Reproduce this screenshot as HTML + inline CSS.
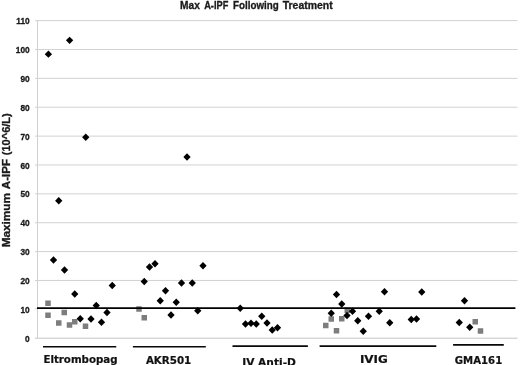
<!DOCTYPE html>
<html><head><meta charset="utf-8"><title>Max A-IPF Following Treatment</title>
<style>html,body{margin:0;padding:0;background:#fff;}svg{display:block;}.t{font-family:"Liberation Sans",sans-serif;font-weight:bold;fill:#1a1a1a;}.b{stroke:#1a1a1a;stroke-width:0.3px;}.g{stroke:#111;stroke-width:0.2px;font-family:"DejaVu Sans","Liberation Sans",sans-serif;font-weight:bold;fill:#111;}</style></head><body>
<svg width="520" height="365" viewBox="0 0 520 365">
<rect width="520" height="365" fill="#fff"/>
<line x1="35.0" y1="338.20" x2="517.5" y2="338.20" stroke="#c4c4c4" stroke-width="1"/>
<line x1="35.0" y1="308.73" x2="37.5" y2="308.73" stroke="#d2d2d2" stroke-width="1"/>
<line x1="35.0" y1="280.46" x2="517.5" y2="280.46" stroke="#d2d2d2" stroke-width="1"/>
<line x1="35.0" y1="251.59" x2="517.5" y2="251.59" stroke="#d2d2d2" stroke-width="1"/>
<line x1="35.0" y1="222.72" x2="517.5" y2="222.72" stroke="#d2d2d2" stroke-width="1"/>
<line x1="35.0" y1="193.85" x2="517.5" y2="193.85" stroke="#d2d2d2" stroke-width="1"/>
<line x1="35.0" y1="164.98" x2="517.5" y2="164.98" stroke="#d2d2d2" stroke-width="1"/>
<line x1="35.0" y1="136.11" x2="517.5" y2="136.11" stroke="#d2d2d2" stroke-width="1"/>
<line x1="35.0" y1="107.24" x2="517.5" y2="107.24" stroke="#d2d2d2" stroke-width="1"/>
<line x1="35.0" y1="78.37" x2="517.5" y2="78.37" stroke="#d2d2d2" stroke-width="1"/>
<line x1="35.0" y1="49.50" x2="517.5" y2="49.50" stroke="#d2d2d2" stroke-width="1"/>
<line x1="35.0" y1="20.63" x2="517.5" y2="20.63" stroke="#d2d2d2" stroke-width="1"/>
<line x1="37.5" y1="20.63" x2="37.5" y2="338.20" stroke="#d0d0d0" stroke-width="1"/>
<text class="t b" x="29.7" y="341.80" font-size="8.3" text-anchor="end">0</text>
<text class="t b" x="29.7" y="312.93" font-size="8.3" text-anchor="end">10</text>
<text class="t b" x="29.7" y="284.06" font-size="8.3" text-anchor="end">20</text>
<text class="t b" x="29.7" y="255.19" font-size="8.3" text-anchor="end">30</text>
<text class="t b" x="29.7" y="226.32" font-size="8.3" text-anchor="end">40</text>
<text class="t b" x="29.7" y="197.45" font-size="8.3" text-anchor="end">50</text>
<text class="t b" x="29.7" y="168.58" font-size="8.3" text-anchor="end">60</text>
<text class="t b" x="29.7" y="139.71" font-size="8.3" text-anchor="end">70</text>
<text class="t b" x="29.7" y="110.84" font-size="8.3" text-anchor="end">80</text>
<text class="t b" x="29.7" y="81.97" font-size="8.3" text-anchor="end">90</text>
<text class="t b" x="29.7" y="53.10" font-size="8.3" text-anchor="end">100</text>
<text class="t b" x="29.7" y="24.23" font-size="8.3" text-anchor="end">110</text>
<rect x="45.25" y="300.50" width="5.5" height="5.5" fill="#7d7d7d"/>
<rect x="45.25" y="312.50" width="5.5" height="5.5" fill="#7d7d7d"/>
<rect x="56.00" y="320.25" width="5.5" height="5.5" fill="#7d7d7d"/>
<rect x="61.50" y="309.75" width="5.5" height="5.5" fill="#7d7d7d"/>
<rect x="66.75" y="322.25" width="5.5" height="5.5" fill="#7d7d7d"/>
<rect x="72.00" y="319.00" width="5.5" height="5.5" fill="#7d7d7d"/>
<rect x="82.75" y="323.50" width="5.5" height="5.5" fill="#7d7d7d"/>
<rect x="136.25" y="306.25" width="5.5" height="5.5" fill="#7d7d7d"/>
<rect x="141.50" y="315.00" width="5.5" height="5.5" fill="#7d7d7d"/>
<rect x="323.00" y="322.75" width="5.5" height="5.5" fill="#7d7d7d"/>
<rect x="328.50" y="316.25" width="5.5" height="5.5" fill="#7d7d7d"/>
<rect x="333.75" y="328.00" width="5.5" height="5.5" fill="#7d7d7d"/>
<rect x="339.00" y="316.00" width="5.5" height="5.5" fill="#7d7d7d"/>
<rect x="344.50" y="307.50" width="5.5" height="5.5" fill="#7d7d7d"/>
<rect x="472.50" y="319.00" width="5.5" height="5.5" fill="#7d7d7d"/>
<rect x="477.75" y="328.25" width="5.5" height="5.5" fill="#7d7d7d"/>
<line x1="37.0" y1="308.15" x2="515.4" y2="308.15" stroke="#000" stroke-width="1.75"/>
<polygon points="44.75,54.20 48.40,50.55 52.05,54.20 48.40,57.85" fill="#000"/>
<polygon points="65.95,40.35 69.60,36.70 73.25,40.35 69.60,44.00" fill="#000"/>
<polygon points="82.10,137.25 85.75,133.60 89.40,137.25 85.75,140.90" fill="#000"/>
<polygon points="55.10,200.75 58.75,197.10 62.40,200.75 58.75,204.40" fill="#000"/>
<polygon points="49.85,260.00 53.50,256.35 57.15,260.00 53.50,263.65" fill="#000"/>
<polygon points="60.85,270.00 64.50,266.35 68.15,270.00 64.50,273.65" fill="#000"/>
<polygon points="71.10,294.00 74.75,290.35 78.40,294.00 74.75,297.65" fill="#000"/>
<polygon points="76.60,318.75 80.25,315.10 83.90,318.75 80.25,322.40" fill="#000"/>
<polygon points="87.35,319.00 91.00,315.35 94.65,319.00 91.00,322.65" fill="#000"/>
<polygon points="92.60,305.50 96.25,301.85 99.90,305.50 96.25,309.15" fill="#000"/>
<polygon points="97.85,322.25 101.50,318.60 105.15,322.25 101.50,325.90" fill="#000"/>
<polygon points="103.35,312.50 107.00,308.85 110.65,312.50 107.00,316.15" fill="#000"/>
<polygon points="108.60,285.50 112.25,281.85 115.90,285.50 112.25,289.15" fill="#000"/>
<polygon points="140.60,281.50 144.25,277.85 147.90,281.50 144.25,285.15" fill="#000"/>
<polygon points="145.85,267.00 149.50,263.35 153.15,267.00 149.50,270.65" fill="#000"/>
<polygon points="151.35,263.75 155.00,260.10 158.65,263.75 155.00,267.40" fill="#000"/>
<polygon points="156.60,300.75 160.25,297.10 163.90,300.75 160.25,304.40" fill="#000"/>
<polygon points="161.85,290.75 165.50,287.10 169.15,290.75 165.50,294.40" fill="#000"/>
<polygon points="167.35,315.00 171.00,311.35 174.65,315.00 171.00,318.65" fill="#000"/>
<polygon points="172.60,302.25 176.25,298.60 179.90,302.25 176.25,305.90" fill="#000"/>
<polygon points="177.85,283.00 181.50,279.35 185.15,283.00 181.50,286.65" fill="#000"/>
<polygon points="188.60,283.00 192.25,279.35 195.90,283.00 192.25,286.65" fill="#000"/>
<polygon points="194.10,310.75 197.75,307.10 201.40,310.75 197.75,314.40" fill="#000"/>
<polygon points="199.35,265.75 203.00,262.10 206.65,265.75 203.00,269.40" fill="#000"/>
<polygon points="183.35,157.00 187.00,153.35 190.65,157.00 187.00,160.65" fill="#000"/>
<polygon points="236.60,308.25 240.25,304.60 243.90,308.25 240.25,311.90" fill="#000"/>
<polygon points="241.85,324.00 245.50,320.35 249.15,324.00 245.50,327.65" fill="#000"/>
<polygon points="247.35,323.25 251.00,319.60 254.65,323.25 251.00,326.90" fill="#000"/>
<polygon points="252.60,324.00 256.25,320.35 259.90,324.00 256.25,327.65" fill="#000"/>
<polygon points="258.10,316.25 261.75,312.60 265.40,316.25 261.75,319.90" fill="#000"/>
<polygon points="263.35,323.00 267.00,319.35 270.65,323.00 267.00,326.65" fill="#000"/>
<polygon points="268.60,330.00 272.25,326.35 275.90,330.00 272.25,333.65" fill="#000"/>
<polygon points="273.85,327.75 277.50,324.10 281.15,327.75 277.50,331.40" fill="#000"/>
<polygon points="327.60,313.25 331.25,309.60 334.90,313.25 331.25,316.90" fill="#000"/>
<polygon points="332.85,294.50 336.50,290.85 340.15,294.50 336.50,298.15" fill="#000"/>
<polygon points="338.10,304.00 341.75,300.35 345.40,304.00 341.75,307.65" fill="#000"/>
<polygon points="343.35,315.50 347.00,311.85 350.65,315.50 347.00,319.15" fill="#000"/>
<polygon points="348.85,311.25 352.50,307.60 356.15,311.25 352.50,314.90" fill="#000"/>
<polygon points="354.10,320.75 357.75,317.10 361.40,320.75 357.75,324.40" fill="#000"/>
<polygon points="359.60,331.25 363.25,327.60 366.90,331.25 363.25,334.90" fill="#000"/>
<polygon points="364.85,316.25 368.50,312.60 372.15,316.25 368.50,319.90" fill="#000"/>
<polygon points="375.60,311.25 379.25,307.60 382.90,311.25 379.25,314.90" fill="#000"/>
<polygon points="380.85,291.75 384.50,288.10 388.15,291.75 384.50,295.40" fill="#000"/>
<polygon points="386.10,322.75 389.75,319.10 393.40,322.75 389.75,326.40" fill="#000"/>
<polygon points="407.60,319.50 411.25,315.85 414.90,319.50 411.25,323.15" fill="#000"/>
<polygon points="412.85,319.00 416.50,315.35 420.15,319.00 416.50,322.65" fill="#000"/>
<polygon points="418.10,292.00 421.75,288.35 425.40,292.00 421.75,295.65" fill="#000"/>
<polygon points="455.60,322.50 459.25,318.85 462.90,322.50 459.25,326.15" fill="#000"/>
<polygon points="460.85,300.75 464.50,297.10 468.15,300.75 464.50,304.40" fill="#000"/>
<polygon points="466.10,327.25 469.75,323.60 473.40,327.25 469.75,330.90" fill="#000"/>
<line x1="43" y1="346.75" x2="116.25" y2="346.75" stroke="#080808" stroke-width="1.6"/>
<text class="g" x="43.4" y="362.8" font-size="10.2" textLength="74.2" lengthAdjust="spacingAndGlyphs">Eltrombopag</text>
<line x1="132.9" y1="346.7" x2="205.8" y2="346.7" stroke="#080808" stroke-width="1.6"/>
<text class="g" x="145.9" y="363.7" font-size="10.2" textLength="45.4" lengthAdjust="spacingAndGlyphs">AKR501</text>
<line x1="232.5" y1="346.1" x2="307.9" y2="346.1" stroke="#080808" stroke-width="1.6"/>
<text class="g" x="242.2" y="365.6" font-size="10.2" textLength="53.7" lengthAdjust="spacingAndGlyphs">IV Anti-D</text>
<line x1="319.6" y1="346.1" x2="436.3" y2="346.1" stroke="#080808" stroke-width="1.6"/>
<text class="g" x="359.9" y="362.6" font-size="10.2" textLength="27.9" lengthAdjust="spacingAndGlyphs">IVIG</text>
<line x1="453.1" y1="344.9" x2="503.8" y2="344.9" stroke="#080808" stroke-width="1.6"/>
<text class="g" x="454.8" y="364.1" font-size="10.2" textLength="47.4" lengthAdjust="spacingAndGlyphs">GMA161</text>
<text class="t b" x="180" y="8.5" font-size="10" textLength="19.8" lengthAdjust="spacingAndGlyphs">Max</text>
<text class="t b" x="204.2" y="8.5" font-size="10" textLength="24.1" lengthAdjust="spacingAndGlyphs">A-IPF</text>
<text class="t b" x="233.1" y="8.5" font-size="10" textLength="45.7" lengthAdjust="spacingAndGlyphs">Following</text>
<text class="t b" x="282.7" y="8.5" font-size="10" textLength="50.0" lengthAdjust="spacingAndGlyphs">Treatment</text>
<text class="t b" transform="translate(9.9,247.3) rotate(-90)" font-size="10.9" textLength="54.2" lengthAdjust="spacingAndGlyphs">Maximum</text>
<text class="t b" transform="translate(9.9,189.2) rotate(-90)" font-size="10.9" textLength="30.4" lengthAdjust="spacingAndGlyphs">A-IPF</text>
<text class="t b" transform="translate(9.9,155.3) rotate(-90)" font-size="10.9" textLength="42.1" lengthAdjust="spacingAndGlyphs">(10^6/L)</text>
</svg></body></html>
